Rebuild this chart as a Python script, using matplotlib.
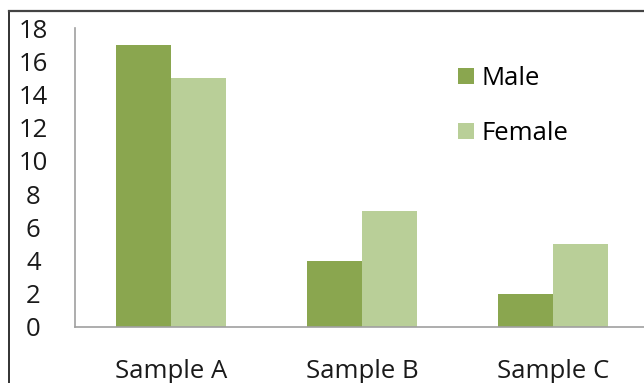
#!/usr/bin/env python3
# Grouped bar chart: Male / Female counts per sample

import numpy as np
import matplotlib
matplotlib.use('Agg')
import matplotlib.pyplot as plt
from matplotlib.lines import Line2D

plt.rcParams['font.family'] = ['Open Sans', 'DejaVu Sans']

# data
samples = ['Sample A', 'Sample B', 'Sample C']
male    = [17, 4, 2]
female  = [15, 7, 5]
y_ticks = np.arange(0, 19, 2)

c_male   = '#8AA64F'
c_female = '#B9CF98'

W, H = 644, 383
fig = plt.figure(figsize=(W / 100, H / 100), dpi=100)

# plot area in pixels: left 75, bottom 327, top (value 18) 28, category step ~191
left, bottom, top = 75, 327, 28
step = 191.3
ax = fig.add_axes([left / W, 1 - bottom / H, 3 * step / W, (bottom - top) / H])

x = np.arange(len(samples))
bw = 55 / step
ax.bar(x - bw / 2, male, width=bw, color=c_male, label='Male')
ax.bar(x + bw / 2, female, width=bw, color=c_female, label='Female')

ax.set_xlim(-0.5, 2.5)
ax.set_ylim(0, 18)
ax.set_yticks(y_ticks)
ax.set_xticks(x)
ax.set_xticklabels(samples)

for s in ['top', 'right']:
    ax.spines[s].set_visible(False)
for s in ['left', 'bottom']:
    ax.spines[s].set_color('#A0A0A0')
    ax.spines[s].set_linewidth(1.2)

fs = 18.5
ax.tick_params(axis='both', length=0, labelsize=fs, colors='#1A1A1A')
ax.tick_params(axis='y', pad=30)
ax.tick_params(axis='x', pad=23)
for lab in ax.get_yticklabels():
    lab.set_horizontalalignment('center')

leg = ax.legend(loc='upper left', bbox_to_anchor=((448 - left) / (3 * step), 1 - (56 - top) / (bottom - top)),
                frameon=False, fontsize=fs, handlelength=0.6, handleheight=0.6,
                labelspacing=1.15, handletextpad=0.3, borderaxespad=0)

# outer frame (top and left edges only are visible)
fig.add_artist(Line2D([8.5 / W, 8.5 / W], [0, 1 - 10.5 / H], color='#222222', lw=1.3,
                      transform=fig.transFigure))
fig.add_artist(Line2D([8.5 / W, 1], [1 - 10.5 / H, 1 - 10.5 / H], color='#444444', lw=1.6,
                      transform=fig.transFigure))

fig.savefig('out.png', dpi=100, facecolor='w')
plt.close()
